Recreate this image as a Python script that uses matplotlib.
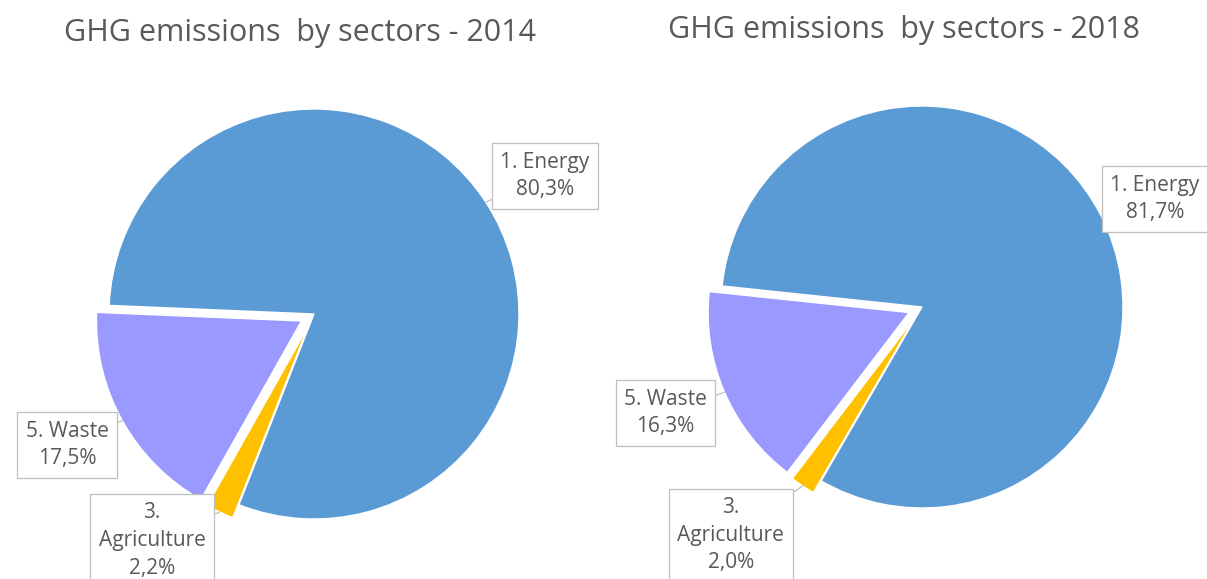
import matplotlib.pyplot as plt
import numpy as np

plt.rcParams['font.family'] = ['Open Sans', 'DejaVu Sans']

# sector shares (%), in drawing order
sectors = ['1. Energy', '3.\nAgriculture', '5. Waste']
share_2014 = [80.3, 2.2, 17.5]
share_2018 = [81.7, 2.0, 16.3]
colors = ['#5B9BD5', '#FFC000', '#9999FF']
explode = [0, 0.07, 0.07]

W, H = 1207, 579
TEXT = '#595959'


def draw_pie(ax, values, start, cx, cy, r, offsets):
    wedges, _ = ax.pie(values, colors=colors, explode=explode, startangle=start,
                       counterclock=False, radius=1,
                       wedgeprops=dict(edgecolor='white', linewidth=1.0))
    # keep 1 data unit == r pixels in both directions
    aw = W / 2
    ax.set_xlim(-cx / r, (aw - cx) / r)
    ax.set_ylim(-(H - cy) / r, cy / r)
    ax.set_aspect('auto')
    ax.axis('off')
    for w, name, v, (dx, dy) in zip(wedges, sectors, values, offsets):
        mid = np.deg2rad((w.theta1 + w.theta2) / 2)
        ex, ey = w.center
        rim = (ex + np.cos(mid), ey + np.sin(mid))
        label = name + '\n' + f'{v:.1f}'.replace('.', ',') + '%'
        ax.annotate(label, xy=rim, xytext=(dx, dy), ha='center', va='center',
                    fontsize=15, color=TEXT, linespacing=1.42,
                    bbox=dict(boxstyle='square,pad=0.4', fc='white', ec='#bfbfbf', lw=0.9),
                    arrowprops=dict(arrowstyle='-', color='#bfbfbf', lw=0.9,
                                    shrinkA=0, shrinkB=0))


fig = plt.figure(figsize=(W / 100, H / 100), dpi=100)
ax1 = fig.add_axes([0, 0, 0.5, 1])
ax2 = fig.add_axes([0.5, 0, 0.5, 1])

draw_pie(ax1, share_2014, 177.6, 314, 314, 205,
         [(1.127, 0.673), (-0.79, -1.105), (-1.205, -0.639)])
draw_pie(ax2, share_2018, 174.0, 318.5, 307, 201,
         [(1.158, 0.537), (-0.951, -1.135), (-1.276, -0.527)])

fig.text(300 / W, 1 - 33 / H, 'GHG emissions  by sectors - 2014', ha='center', va='center',
         fontsize=22, color=TEXT)
fig.text(904 / W, 1 - 30 / H, 'GHG emissions  by sectors - 2018', ha='center', va='center',
         fontsize=22, color=TEXT)

fig.savefig('out.png', dpi=100, facecolor='white')
